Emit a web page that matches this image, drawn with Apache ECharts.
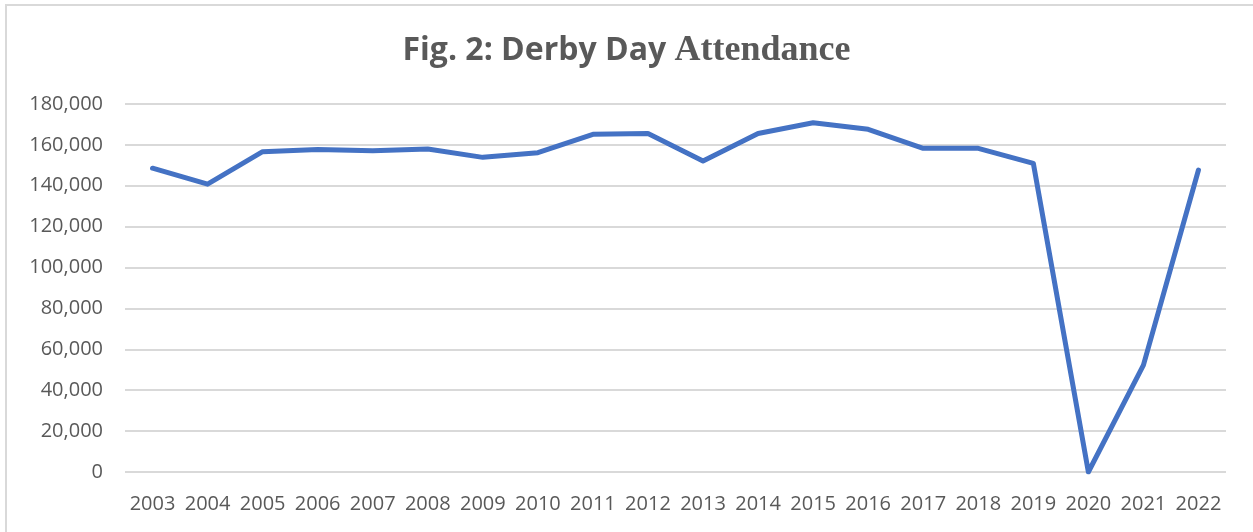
<!DOCTYPE html>
<html>
<head>
<meta charset="utf-8">
<script src="https://cdn.jsdelivr.net/npm/echarts@6/dist/echarts.min.js"></script>
<style>
html,body{margin:0;padding:0;background:#fff;}
#chart{width:1253px;height:532px;}
</style>
</head>
<body>
<div id="chart"></div>
<script>
const years = ['2003','2004','2005','2006','2007','2008','2009','2010','2011','2012','2013','2014','2015','2016','2017','2018','2019','2020','2021','2022'];
const attendance = [148600,140800,156700,157800,157100,158000,153900,156200,165200,165600,152100,165600,170800,167600,158300,158300,151000,0,52300,147700];
const yTicks = {min:0, max:180000, interval:20000};

const chart = echarts.init(document.getElementById('chart'), null, {renderer:'canvas'});
chart.setOption({
  backgroundColor:'#fff',
  animation:false,
  title:{
    text:'{a|Fig. 2: Derby Day }{b|Attendance}',
    left:'center',
    top:28,
    textStyle:{
      rich:{
        a:{fontFamily:'Open Sans',fontWeight:'bold',fontSize:32,color:'#595959'},
        b:{fontFamily:'Liberation Serif',fontWeight:'bold',fontSize:36,color:'#595959'}
      }
    }
  },
  graphic:[{
    type:'rect',
    shape:{x:6,y:5,width:1400,height:700},
    style:{fill:'none',stroke:'#d9d9d9',lineWidth:2},
    silent:true,
    z:-1
  }],
  grid:{left:125,right:27,top:104,bottom:60,containLabel:false},
  xAxis:{
    type:'category',
    data:years,
    boundaryGap:true,
    axisLine:{show:false},
    axisTick:{show:false},
    axisLabel:{color:'#595959',fontFamily:'Open Sans',fontSize:20,margin:22,interval:0}
  },
  yAxis:{
    type:'value',
    min:yTicks.min,max:yTicks.max,interval:yTicks.interval,
    axisLine:{show:false},
    axisTick:{show:false},
    splitLine:{lineStyle:{color:'#d9d9d9',width:2}},
    axisLabel:{color:'#595959',fontFamily:'Open Sans',fontSize:20,margin:22,
      formatter:v=>v.toLocaleString('en-US')}
  },
  series:[{
    type:'line',
    data:attendance,
    symbol:'none',
    lineStyle:{color:'#4472C4',width:5,cap:'round',join:'round'},
    itemStyle:{color:'#4472C4'}
  }]
});
</script>
</body>
</html>
